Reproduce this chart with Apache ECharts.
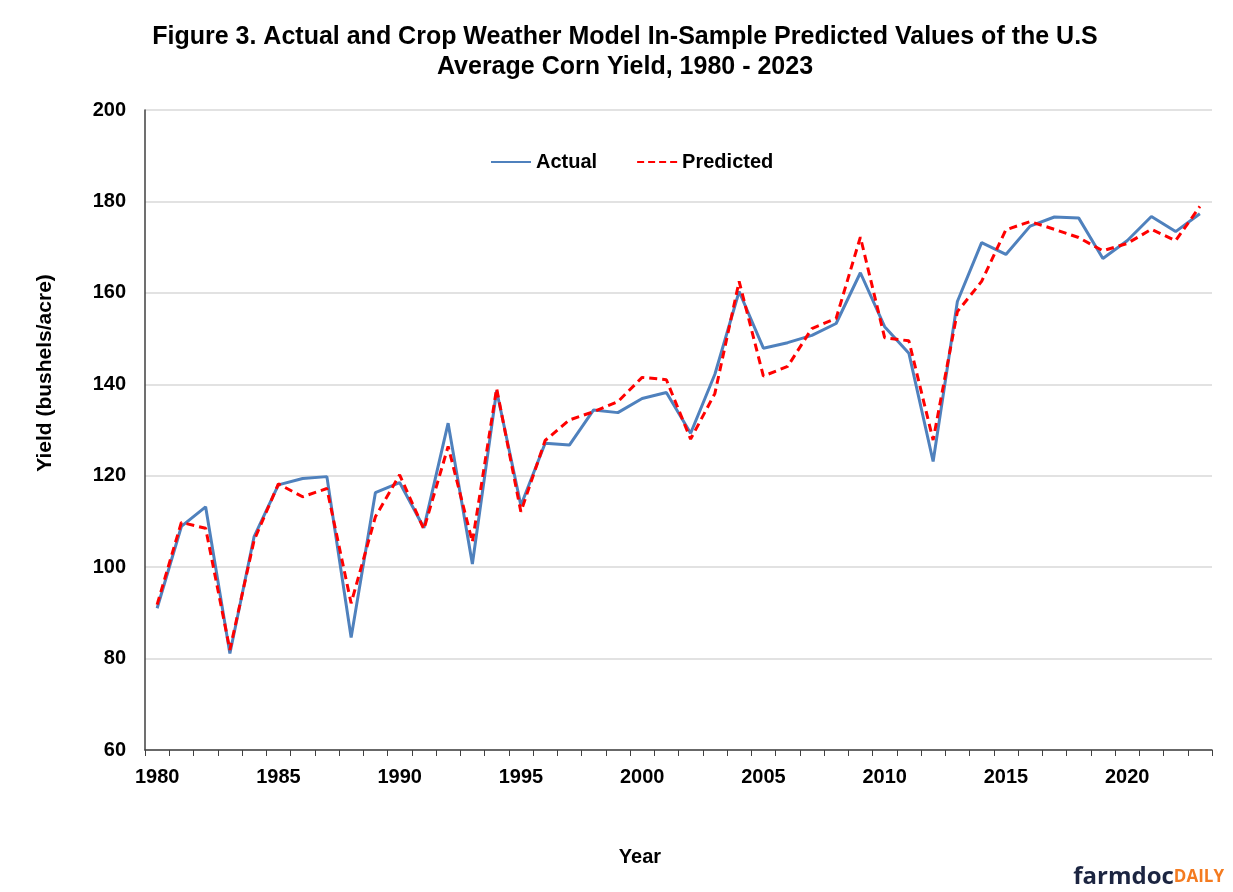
<!DOCTYPE html>
<html>
<head>
<meta charset="utf-8">
<script src="https://cdn.jsdelivr.net/npm/echarts@6/dist/echarts.min.js"></script>
<style>
  html, body { margin: 0; padding: 0; background: #fff; }
  #chart { width: 1233px; height: 892px; }
</style>
</head>
<body>
<div id="chart"></div>
<script>
// years 1980..2023
var years = [];
for (var y = 1980; y <= 2023; y++) years.push(String(y));

// actual US average corn yield (bu/acre)
var actual = [91.0, 108.9, 113.2, 81.1, 106.7, 118.0, 119.4, 119.8, 84.6, 116.3,
  118.5, 108.6, 131.5, 100.7, 138.6, 113.5, 127.1, 126.7, 134.4, 133.8,
  136.9, 138.2, 129.3, 142.2, 160.3, 147.9, 149.1, 150.7, 153.3, 164.4,
  152.6, 146.8, 123.1, 158.1, 171.0, 168.4, 174.6, 176.6, 176.4, 167.5,
  171.4, 176.7, 173.4, 177.3];

// crop weather model, in-sample predicted
var predicted = [91.8, 109.8, 108.5, 81.9, 105.9, 118.2, 115.4, 117.2, 92.1, 111.0,
  120.2, 108.3, 126.4, 105.5, 139.1, 112.1, 127.7, 132.2, 134.0, 136.2,
  141.5, 141.0, 128.0, 138.0, 162.5, 141.8, 143.9, 152.2, 154.4, 172.2,
  150.2, 149.5, 127.8, 155.9, 162.5, 173.8, 175.6, 173.9, 172.1, 169.2,
  170.8, 173.9, 171.4, 178.9];

var titleLines = ["Figure 3. Actual and Crop Weather Model In-Sample Predicted Values of the U.S",
  "Average Corn Yield, 1980 - 2023"];

var font = "'Liberation Sans', Arial, sans-serif";

var chart = echarts.init(document.getElementById("chart"));
chart.setOption({
  animation: false,
  backgroundColor: "#fff",
  title: {
    text: titleLines.join("\n"),
    left: 620, top: 17, textAlign: "center",
    textStyle: { fontFamily: font, fontWeight: "bold", fontSize: 25, lineHeight: 30, color: "#000" }
  },
  legend: {
    left: 486, top: 147,
    itemWidth: 40, itemHeight: 12, itemGap: 40,
    textStyle: { fontFamily: font, fontWeight: "bold", fontSize: 20, color: "#000" },
    data: [
      { name: "Actual", icon: "path://M0,5L40,5L40,7L0,7Z" },
      { name: "Predicted", icon: "path://M0,5L7,5L7,7L0,7ZM11,5L18,5L18,7L11,7ZM22,5L29,5L29,7L22,7ZM33,5L40,5L40,7L33,7Z" }
    ]
  },
  grid: { left: 145, right: 21, top: 110, bottom: 142 },
  xAxis: {
    type: "category",
    data: years,
    boundaryGap: true,
    axisLine: { lineStyle: { color: "#404040", width: 1.5 } },
    axisTick: { show: true, interval: 0, length: 6, lineStyle: { color: "#404040" } },
    axisLabel: {
      interval: 4, margin: 17,
      fontFamily: font, fontWeight: "bold", fontSize: 20, color: "#000"
    },
    splitLine: { show: false }
  },
  yAxis: {
    type: "value",
    min: 60, max: 200, interval: 20,
    axisLine: { show: true, lineStyle: { color: "#404040", width: 1.5 } },
    axisTick: { show: false },
    axisLabel: { margin: 19, fontFamily: font, fontWeight: "bold", fontSize: 20, color: "#000" },
    splitLine: { lineStyle: { color: "#d9d9d9", width: 1.5 } }
  },
  series: [
    {
      name: "Actual", type: "line", data: actual,
      symbol: "none",
      lineStyle: { color: "#4f81bd", width: 3 },
      itemStyle: { color: "#4f81bd" }
    },
    {
      name: "Predicted", type: "line", data: predicted,
      symbol: "none",
      lineStyle: { color: "#ff0000", width: 3, type: [8, 5] },
      itemStyle: { color: "#ff0000" }
    }
  ],
  graphic: [
    {
      type: "text", x: 45, y: 373, rotation: Math.PI / 2,
      style: {
        text: "Yield (bushels/acre)",
        align: "center", verticalAlign: "middle",
        font: "bold 21px " + font, fill: "#000"
      }
    },
    {
      type: "text", x: 640, y: 857,
      style: {
        text: "Year", align: "center", verticalAlign: "middle",
        font: "bold 20px " + font, fill: "#000"
      }
    },
    {
      type: "text", x: 1224, y: 877,
      style: {
        text: "{a|farmdoc}{b|DAILY}", align: "right", verticalAlign: "middle",
        rich: {
          a: { fontFamily: "'Open Sans', " + font, fontWeight: "bold", fontSize: 24, fill: "#1c2541" },
          b: { fontFamily: "'Open Sans', " + font, fontWeight: "bold", fontSize: 17, fill: "#f47b20" }
        }
      }
    }
  ]
});
</script>
</body>
</html>
